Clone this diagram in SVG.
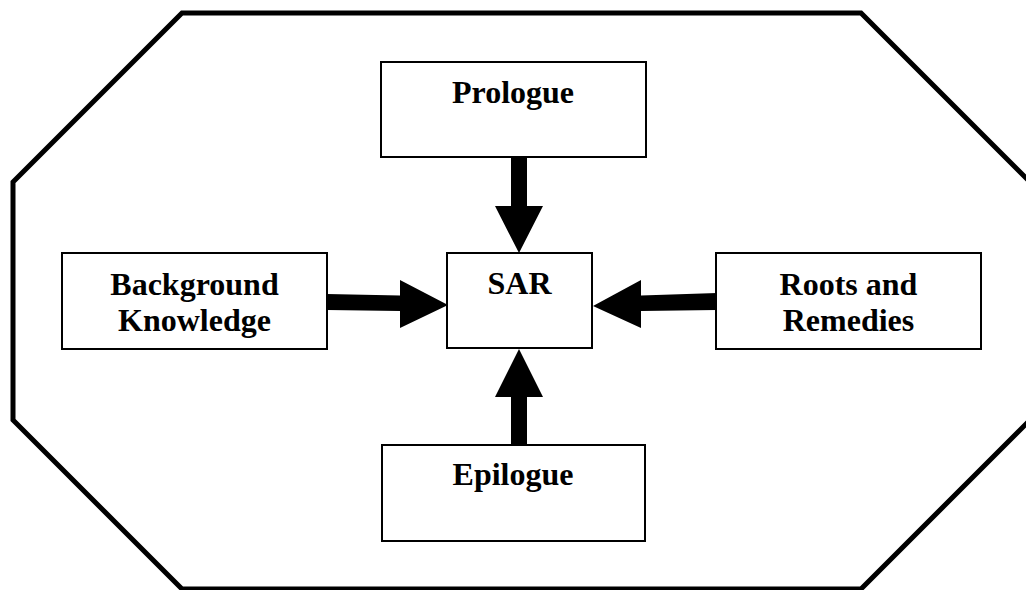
<svg xmlns="http://www.w3.org/2000/svg" width="1026" height="590" viewBox="0 0 1026 590">
  <style>
    .frame { fill: none; stroke: #000; stroke-width: 5; stroke-linejoin: miter; }
    .box { fill: #fff; stroke: #000; stroke-width: 2; }
    .label { font-family: "Liberation Serif", "Times New Roman", serif; font-weight: bold; font-size: 32px; fill: #000; text-anchor: middle; }
    .arrow { fill: #000; stroke: none; }
  </style>

  <!-- octagonal frame -->
  <polygon class="frame" points="182,13 861,13 1030,182 1030,420 861,589 182,589 13,420 13,182"/>

  <!-- block arrows -->
  <g id="connectors">
    <!-- Prologue -> SAR -->
    <polygon class="arrow" points="511,157 527,157 527,206 543,206 519,253 495,206 511,206"/>
    <!-- Epilogue -> SAR -->
    <polygon class="arrow" points="511,446 527,446 527,397 543,397 519,349 495,397 511,397"/>
    <!-- Background Knowledge -> SAR -->
    <polygon class="arrow" points="327,294 400,295.5 400,280 448,305 400,328 400,311 327,310"/>
    <!-- Roots and Remedies -> SAR -->
    <polygon class="arrow" points="717,293 641,295.5 641,280 593,306 641,328 641,311 717,310"/>
  </g>

  <g id="node-prologue">
    <rect class="box" x="381" y="62" width="265" height="95"/>
    <text class="label" x="513" y="103">Prologue</text>
  </g>

  <g id="node-sar">
    <rect class="box" x="447" y="253" width="145" height="95"/>
    <text class="label" x="519.5" y="294">SAR</text>
  </g>

  <g id="node-background">
    <rect class="box" x="62" y="253" width="265" height="96"/>
    <text class="label" x="194.5" y="295">Background</text>
    <text class="label" x="194.5" y="331">Knowledge</text>
  </g>

  <g id="node-roots">
    <rect class="box" x="716" y="253" width="265" height="96"/>
    <text class="label" x="848.5" y="295">Roots and</text>
    <text class="label" x="848.5" y="331">Remedies</text>
  </g>

  <g id="node-epilogue">
    <rect class="box" x="382" y="445" width="263" height="96"/>
    <text class="label" x="513" y="485">Epilogue</text>
  </g>
</svg>
